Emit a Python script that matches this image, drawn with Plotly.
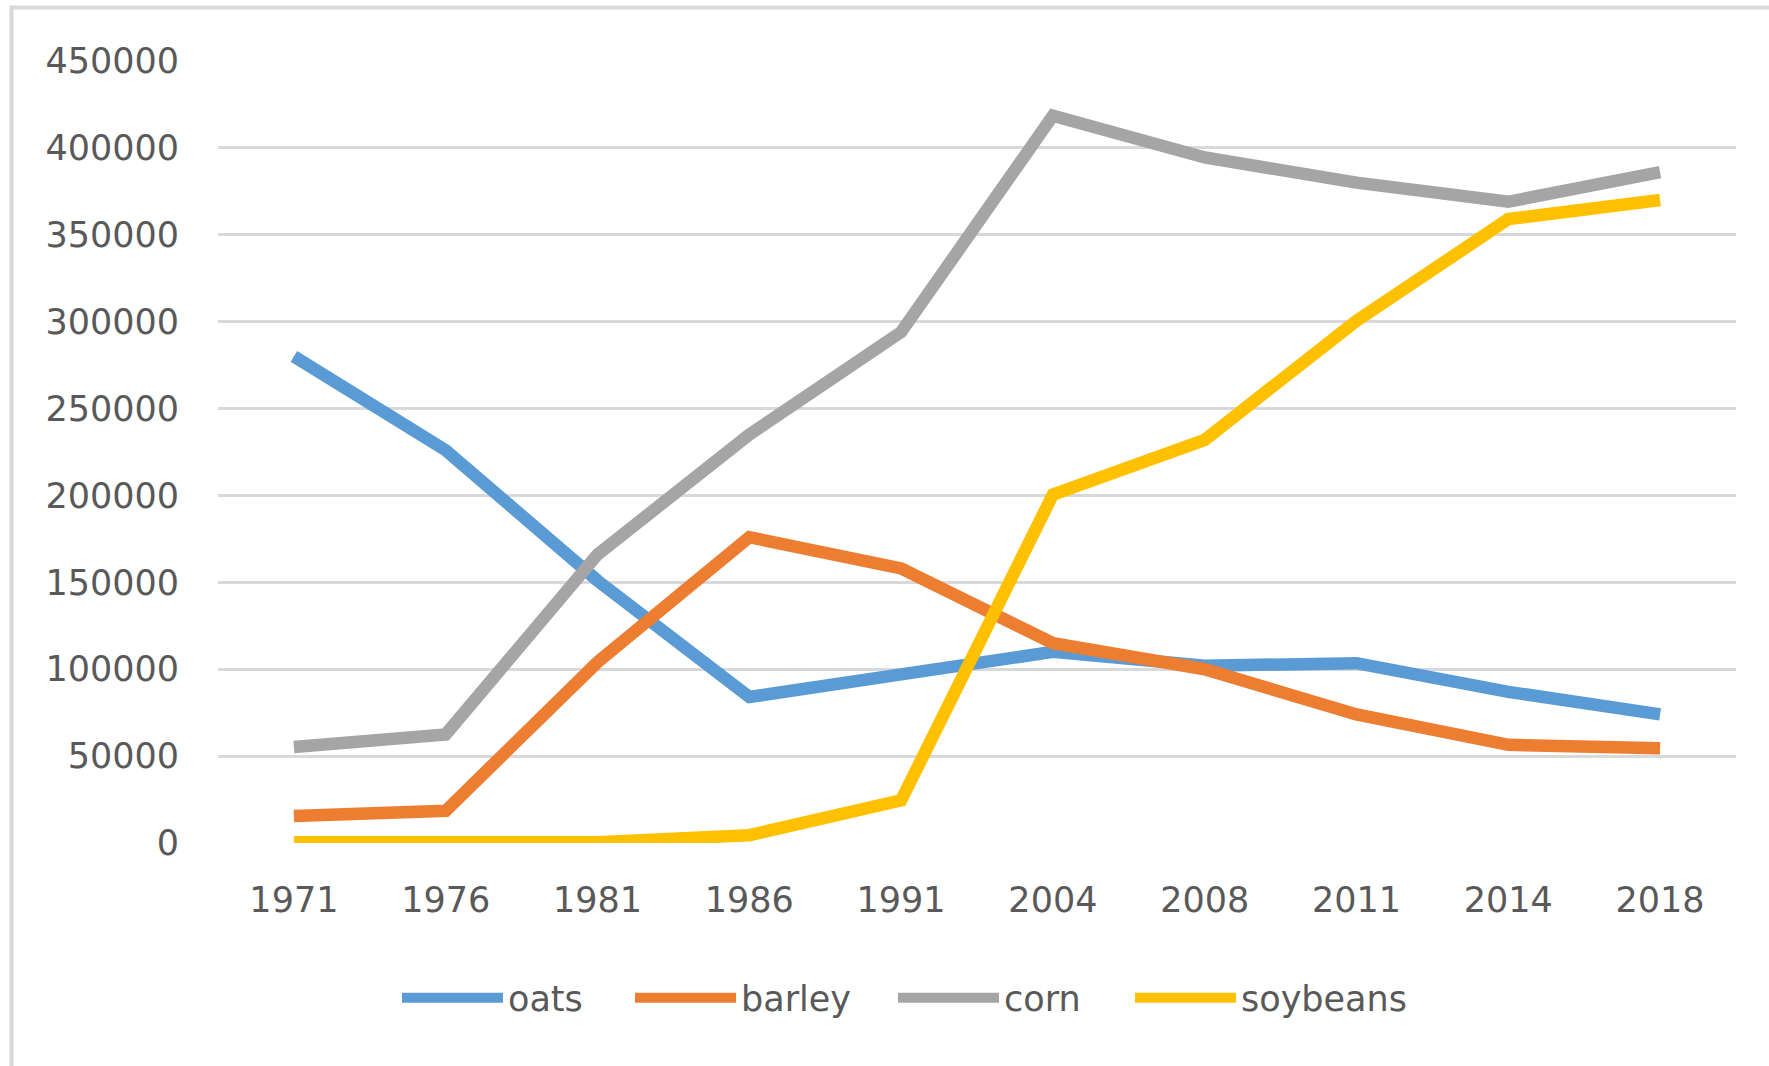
import plotly.graph_objects as go

years = ["1971", "1976", "1981", "1986", "1991", "2004", "2008", "2011", "2014", "2018"]
oats = [280000, 226000, 151000, 84000, 97000, 110000, 102000, 103500, 87000, 74000]
barley = [15500, 18500, 104000, 176000, 158000, 115000, 100000, 74000, 56500, 54500]
corn = [55300, 62500, 166000, 235000, 294000, 418500, 394500, 380000, 369000, 386000]
soybeans = [500, 500, 500, 4500, 24500, 200500, 232000, 300500, 359000, 370000]

series_names = ["oats", "barley", "corn", "soybeans"]
series_values = [oats, barley, corn, soybeans]
series_colors = ["#5B9BD5", "#ED7D31", "#A5A5A5", "#FFC000"]

W, H = 1769, 1066
L, R, T, B = 218, 33, 61, 223
FONT = "DejaVu Sans"
TXT = "#595959"

pw = W - L - R
ph = H - T - B


def px_x(p):
    return (p - L) / pw


def px_y(p):
    return (H - B - p) / ph


legend_ids = ["legend", "legend2", "legend3", "legend4"]
legend_x = [397, 630, 893, 1130]

fig = go.Figure()
for name, vals, col, lid in zip(series_names, series_values, series_colors, legend_ids):
    fig.add_trace(go.Scatter(x=years, y=vals, name=name, mode="lines", legend=lid,
                             line=dict(color=col, width=12.5)))

layout_legends = {}
for lid, lx in zip(legend_ids, legend_x):
    layout_legends[lid] = dict(orientation="h", x=px_x(lx), y=px_y(998),
                               xanchor="left", yanchor="middle",
                               font=dict(family=FONT, size=35, color=TXT), itemwidth=101,
                               bgcolor="rgba(0,0,0,0)")

fig.update_layout(
    width=W, height=H,
    margin=dict(l=L, r=R, t=T, b=B, pad=0),
    paper_bgcolor="white", plot_bgcolor="white",
    font=dict(family=FONT, size=35, color=TXT),
    showlegend=True,
    xaxis=dict(type="category", range=[-0.5, 9.5], showgrid=False, zeroline=False,
               showline=False, ticks="", ticklabelstandoff=33,
               tickfont=dict(family=FONT, size=35, color=TXT)),
    yaxis=dict(range=[0, 450000], dtick=50000, tickformat="d", showgrid=True,
               gridcolor="#D9D9D9", gridwidth=3, zeroline=False, showline=False,
               ticks="", ticklabelstandoff=38,
               tickfont=dict(family=FONT, size=35, color=TXT)),
    shapes=[
        dict(type="line", xref="paper", yref="paper", x0=px_x(10), x1=px_x(W + 5),
             y0=px_y(7.5), y1=px_y(7.5), line=dict(color="#D9D9D9", width=4)),
        dict(type="line", xref="paper", yref="paper", x0=px_x(11.5), x1=px_x(11.5),
             y0=px_y(5.5), y1=px_y(H + 5), line=dict(color="#D9D9D9", width=4)),
    ],
    **layout_legends,
)

fig.write_html("out.html", config={"displayModeBar": False},
               post_script="document.body.style.margin='0';")
